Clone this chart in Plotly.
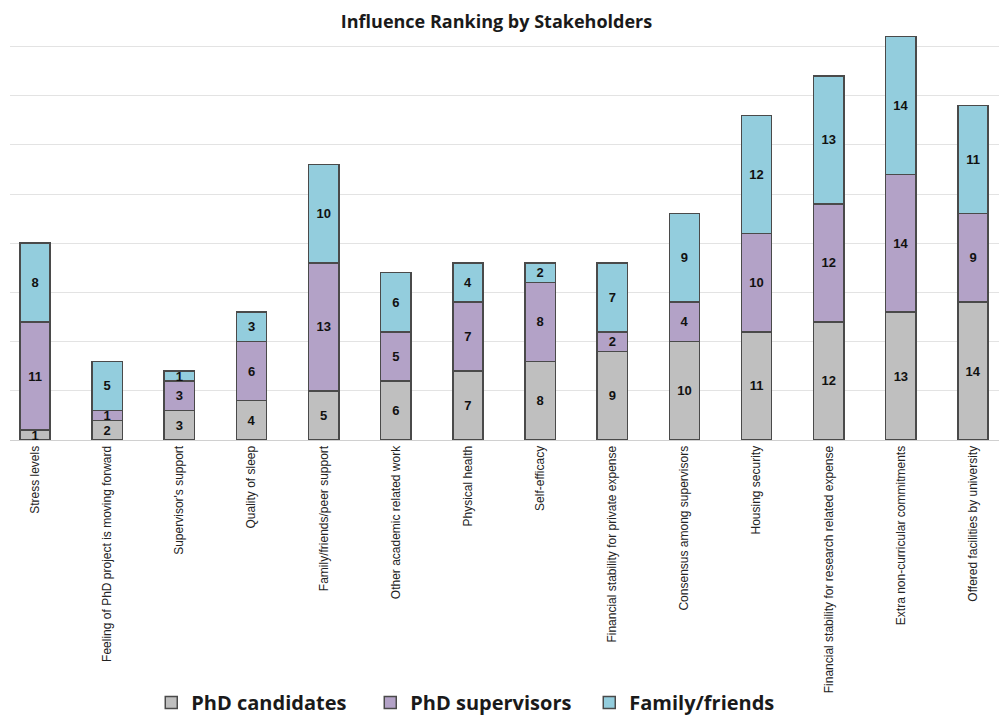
import plotly.graph_objects as go

categories = [
    "Stress levels",
    "Feeling of PhD project is moving forward",
    "Supervisor's support",
    "Quality of sleep",
    "Family/friends/peer support",
    "Other academic related work",
    "Physical health",
    "Self-efficacy",
    "Financial stability for private expense",
    "Consensus among supervisors",
    "Housing security",
    "Financial stability for research related expense",
    "Extra non-curricular commitments",
    "Offered facilities by university",
]
phd_candidates = [1, 2, 3, 4, 5, 6, 7, 8, 9, 10, 11, 12, 13, 14]
phd_supervisors = [11, 1, 3, 6, 13, 5, 7, 8, 2, 4, 10, 12, 14, 9]
family_friends = [8, 5, 1, 3, 10, 6, 4, 2, 7, 9, 12, 13, 14, 11]

series = [
    ("PhD candidates", phd_candidates, "#BFBFBF"),
    ("PhD supervisors", phd_supervisors, "#B3A2C7"),
    ("Family/friends", family_friends, "#93CDDD"),
]

fig = go.Figure()
for name, vals, color in series:
    fig.add_trace(go.Bar(
        x=categories, y=vals, name=name,
        marker=dict(color=color, line=dict(color="#4a4a4a", width=1.5)),
        width=0.42,
        text=vals, texttemplate="<b>%{text}</b>",
        textposition="inside", insidetextanchor="middle", textangle=0,
        textfont=dict(family="Liberation Sans", size=13, color="#111111"),
        hoverinfo="skip",
    ))

W, H = 999, 722
top, bottom, left = 30, 440, 10
fig.update_layout(
    barmode="stack",
    width=W, height=H,
    margin=dict(l=left, r=0, t=top, b=H - bottom, pad=0),
    paper_bgcolor="white", plot_bgcolor="white",
    uniformtext=dict(minsize=13, mode="show"),
    title=dict(text="<b>Influence Ranking by Stakeholders</b>", x=0.497, xanchor="center",
               y=1 - 22 / H, yanchor="middle",
               font=dict(family="Open Sans", size=18, color="#1a1a1a")),
    legend=dict(orientation="h", x=0.475, xanchor="center", traceorder="normal",
                y=-(703 - bottom) / (bottom - top), yanchor="middle",
                entrywidth=174, entrywidthmode="pixels",
                font=dict(family="Open Sans", size=20, color="#1a1a1a", weight="bold"),
                itemclick=False),
    showlegend=True,
)
fig.update_xaxes(
    range=[-0.347, 13.36], tickangle=-90,
    tickfont=dict(family="Liberation Sans", size=12, color="#222222"),
    showline=True, linecolor="#d0d0d0", linewidth=1, ticks="",
    showgrid=False,
)
fig.update_yaxes(
    range=[0, (bottom - top) / 9.84], dtick=5, showticklabels=False,
    showgrid=True, gridcolor="#e3e3e3", gridwidth=1, zeroline=False,
)
fig.write_html("out.html", config={"displayModeBar": False},
               post_script="document.body.style.margin='0';document.body.style.overflow='hidden';")
